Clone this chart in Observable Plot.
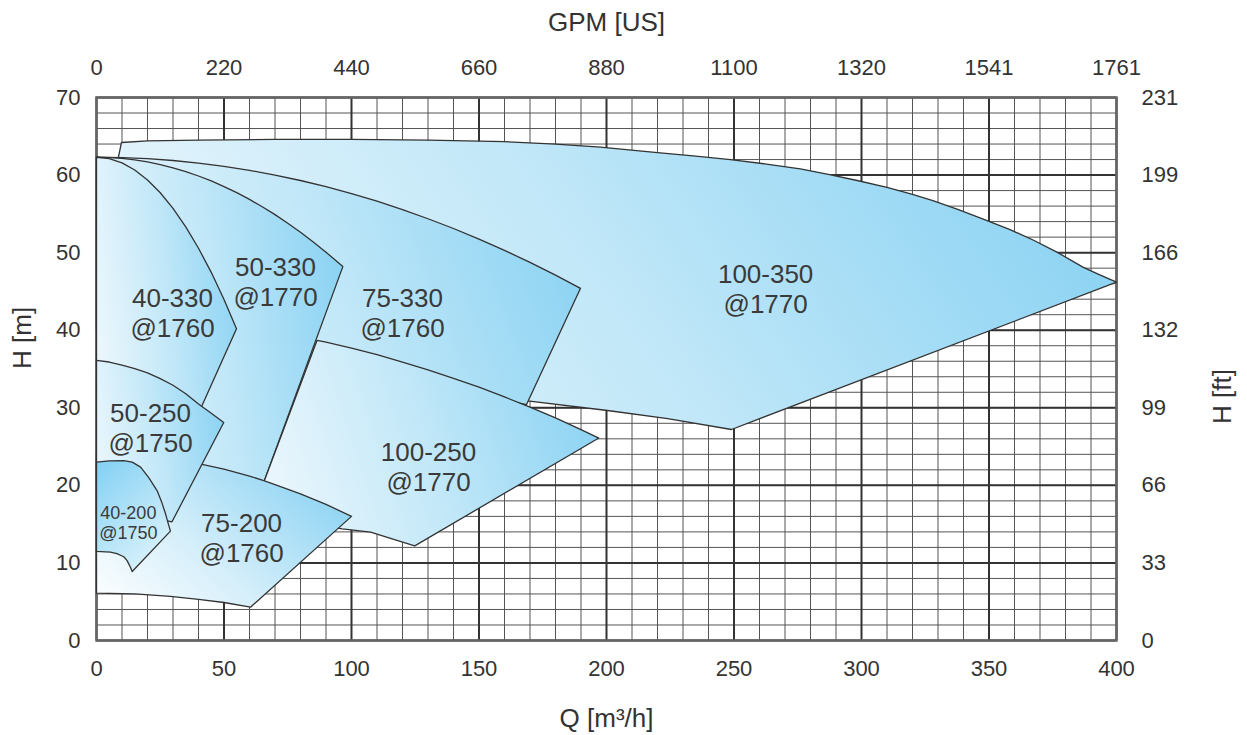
<!DOCTYPE html>
<html>
<head>
<meta charset="utf-8">
<script src="https://cdn.jsdelivr.net/npm/d3@7"></script>
<script src="https://cdn.jsdelivr.net/npm/@observablehq/plot@0.6"></script>
<style>
  html, body { margin: 0; padding: 0; background: #fff; }
  #chart svg { display: block; }
</style>
</head>
<body>
<div id="chart"></div>
<script>
// ---- axis ticks and labels ----
const qTicks = [0, 50, 100, 150, 200, 250, 300, 350, 400];
const gpmLabels = ["0", "220", "440", "660", "880", "1100", "1320", "1541", "1761"];
const hTicks = [0, 10, 20, 30, 40, 50, 60, 70];
const ftLabels = ["0", "33", "66", "99", "132", "166", "199", "231"];

// ---- performance envelopes: [Q m3/h, H m] outline points, drawing order back to front ----
const env_100_350 = [[8.6,62.3],[9.8,64.2],[20,64.4],[40,64.5],[70,64.6],[100,64.6],[130,64.5],[160,64.3],[180,64.0],[197.6,63.6],[220,62.9],[235,62.45],[248.6,62.0],[262,61.45],[276,60.8],[287,60.1],[298.3,59.3],[310,58.4],[320,57.5],[328,56.7],[338,55.55],[348,54.3],[358,53.0],[367.5,51.6],[377,50.0],[387,48.1],[393,47.2],[400,46.2],[249,27.2],[224,28.6],[200.4,29.65],[169,30.9],[140,32.5],[86,36],[60,45],[8.6,62.3]];
const env_75_330 = [[0,62.3],[10,62.25],[20,62.11],[30,61.88],[40,61.55],[50,61.13],[60,60.61],[70,60.0],[80,59.3],[90,58.5],[100,57.61],[110,56.63],[120,55.55],[130,54.37],[140,53.11],[150,51.75],[160,50.29],[170,48.75],[180,47.1],[189.8,45.4],[168.6,30.4],[140,32.5],[86,36],[60,45],[0,62.3]];
const env_50_330 = [[0,62.3],[5,62.26],[10,62.15],[15,61.96],[20,61.7],[25,61.36],[30,60.94],[35,60.45],[40,59.88],[45,59.24],[50,58.52],[55,57.73],[60,56.86],[65,55.92],[70,54.9],[75,53.8],[80,52.63],[85,51.38],[90,50.06],[96.6,48.2],[65.6,20.4],[40,22],[0,40],[0,62.3]];
const env_40_330 = [[0,62.3],[5,62.12],[10,61.57],[15,60.65],[20,59.37],[25,57.72],[30,55.7],[35,53.32],[40,50.57],[45,47.46],[50,43.97],[54.9,40.2],[41,30.0],[20,33],[0,36],[0,62.3]];
const env_100_250 = [[86.5,38.7],[90,38.45],[100,37.7],[110,36.84],[120,35.9],[130,34.9],[140,33.8],[150,32.65],[160,31.4],[170,30.08],[180,28.7],[190,27.19],[197,26.1],[124.8,12.2],[115,13.2],[107.5,13.96],[96.4,14.4],[80,15.3],[65.6,20.4],[86.5,38.7]];
const env_75_200 = [[0,24.1],[10,24.0],[20,23.8],[30,23.4],[41.4,22.7],[50,22.1],[60,21.2],[65.6,20.6],[70,20.1],[80,18.9],[90,17.55],[100,16.0],[60.4,4.3],[50,4.9],[40,5.3],[29,5.7],[15,6.0],[0,6.1],[0,24.1]];
const env_50_250 = [[0,36.1],[5,35.9],[10,35.5],[15,35.05],[20,34.5],[25,33.75],[30,32.9],[35,31.8],[40,30.5],[45,29.3],[49.9,28.1],[29.6,15.3],[20,16],[0,16],[0,36.1]];
const env_40_200 = [[0,23.0],[5,23.15],[10.7,23.2],[14,23.0],[17.3,22.35],[20.5,21.0],[23.8,19.3],[25.5,17.9],[27.1,16.3],[28.2,15.0],[29,14.1],[14,8.9],[13.3,9.45],[12,10.3],[10.7,10.8],[8,11.2],[5.5,11.4],[0,11.5],[0,23.0]];

// ---- envelope labels ----
const labelText = ["40-330\n@1760", "50-330\n@1770", "75-330\n@1760", "100-350\n@1770", "50-250\n@1750", "100-250\n@1770", "75-200\n@1760"];
const labelQ = [29.8, 70.2, 120, 262.4, 21.2, 130.2, 56.9];
const labelH = [42.35, 46.3, 42.3, 45.4, 27.5, 22.4, 13.3];
const smallLabelText = ["40-200\n@1750"];
const smallLabelQ = [12.5];
const smallLabelH = [15.2];

const labels = labelText.map((t, i) => ({t, q: labelQ[i], h: labelH[i]}));
const smallLabels = smallLabelText.map((t, i) => ({t, q: smallLabelQ[i], h: smallLabelH[i]}));

const minorQ = d3.range(0, 401, 10);
const minorH = d3.range(0, 71, 2);

const envStyle = (grad) => ({x: d => d[0], y: d => d[1], fill: grad, stroke: "#333", strokeWidth: 1.3, curve: "linear"});
const titleStyle = {text: d => d, fontSize: 26, fill: "#333", lineAnchor: "middle"};

const chart = Plot.plot({
  width: 1247,
  height: 735,
  marginLeft: 96,
  marginRight: 131,
  marginTop: 97,
  marginBottom: 95,
  x: {domain: [0, 400]},
  y: {domain: [0, 70]},
  style: {fontFamily: "'Liberation Sans', Arial, sans-serif", color: "#333", background: "#fff"},
  marks: [
    Plot.ruleX(minorQ, {stroke: "#555", strokeWidth: 1}),
    Plot.ruleY(minorH, {stroke: "#555", strokeWidth: 1}),
    Plot.ruleX(qTicks, {stroke: "#333", strokeWidth: 2}),
    Plot.ruleY(hTicks, {stroke: "#333", strokeWidth: 2}),
    Plot.frame({stroke: "#666", strokeWidth: 2.5}),
    Plot.line(env_100_350, envStyle("url(#gblue)")),
    Plot.line(env_75_330, envStyle("url(#gblue)")),
    Plot.line(env_50_330, envStyle("url(#gblue)")),
    Plot.line(env_40_330, envStyle("url(#gblue)")),
    Plot.line(env_100_250, envStyle("url(#gblue)")),
    Plot.line(env_75_200, envStyle("url(#gblue2)")),
    Plot.line(env_50_250, envStyle("url(#gblue)")),
    Plot.line(env_40_200, envStyle("url(#gblue3)")),
    Plot.text(labels, {x: "q", y: "h", text: "t", fontSize: 26, lineHeight: 1.15, fill: "#3a3a3a"}),
    Plot.text(smallLabels, {x: "q", y: "h", text: "t", fontSize: 18, lineHeight: 1.1, fill: "#3a3a3a"}),
    Plot.axisX(qTicks, {anchor: "bottom", tickSize: 0, tickPadding: 20, fontSize: 22, label: null}),
    Plot.axisX(qTicks, {anchor: "top", tickSize: 0, tickPadding: 23, fontSize: 22, label: null,
      tickFormat: d => gpmLabels[qTicks.indexOf(d)]}),
    Plot.axisY(hTicks, {anchor: "left", tickSize: 0, tickPadding: 16, fontSize: 22, label: null}),
    Plot.axisY(hTicks, {anchor: "right", tickSize: 0, tickPadding: 25, fontSize: 22, label: null,
      tickFormat: d => ftLabels[hTicks.indexOf(d)]}),
    Plot.text(["Q [m³/h]"], {...titleStyle, frameAnchor: "bottom", dy: 78}),
    Plot.text(["GPM [US]"], {...titleStyle, frameAnchor: "top", dy: -75}),
    Plot.text(["H [m]"], {...titleStyle, frameAnchor: "left", dx: -74, rotate: -90}),
    Plot.text(["H [ft]"], {...titleStyle, frameAnchor: "right", dx: 106, rotate: -90})
  ]
});

const defs = d3.select(chart).insert("defs", ":first-child");
function grad(id, x1, y1, x2, y2, stops) {
  const g = defs.append("linearGradient").attr("id", id)
    .attr("x1", x1).attr("y1", y1).attr("x2", x2).attr("y2", y2);
  stops.forEach(([o, c]) => g.append("stop").attr("offset", o).attr("stop-color", c));
}
grad("gblue", 0, 0.6, 1, 0.4, [[0, "#eaf6fc"], [0.5, "#c0e7f8"], [1, "#8cd3f3"]]);
grad("gblue2", 0, 1, 1, 0.3, [[0, "#ffffff"], [0.45, "#d4eefa"], [1, "#8cd3f3"]]);
grad("gblue3", 0, 0, 0.6, 1, [[0, "#82d0f3"], [1, "#d8f1fb"]]);

document.getElementById("chart").appendChild(chart);
</script>
</body>
</html>
